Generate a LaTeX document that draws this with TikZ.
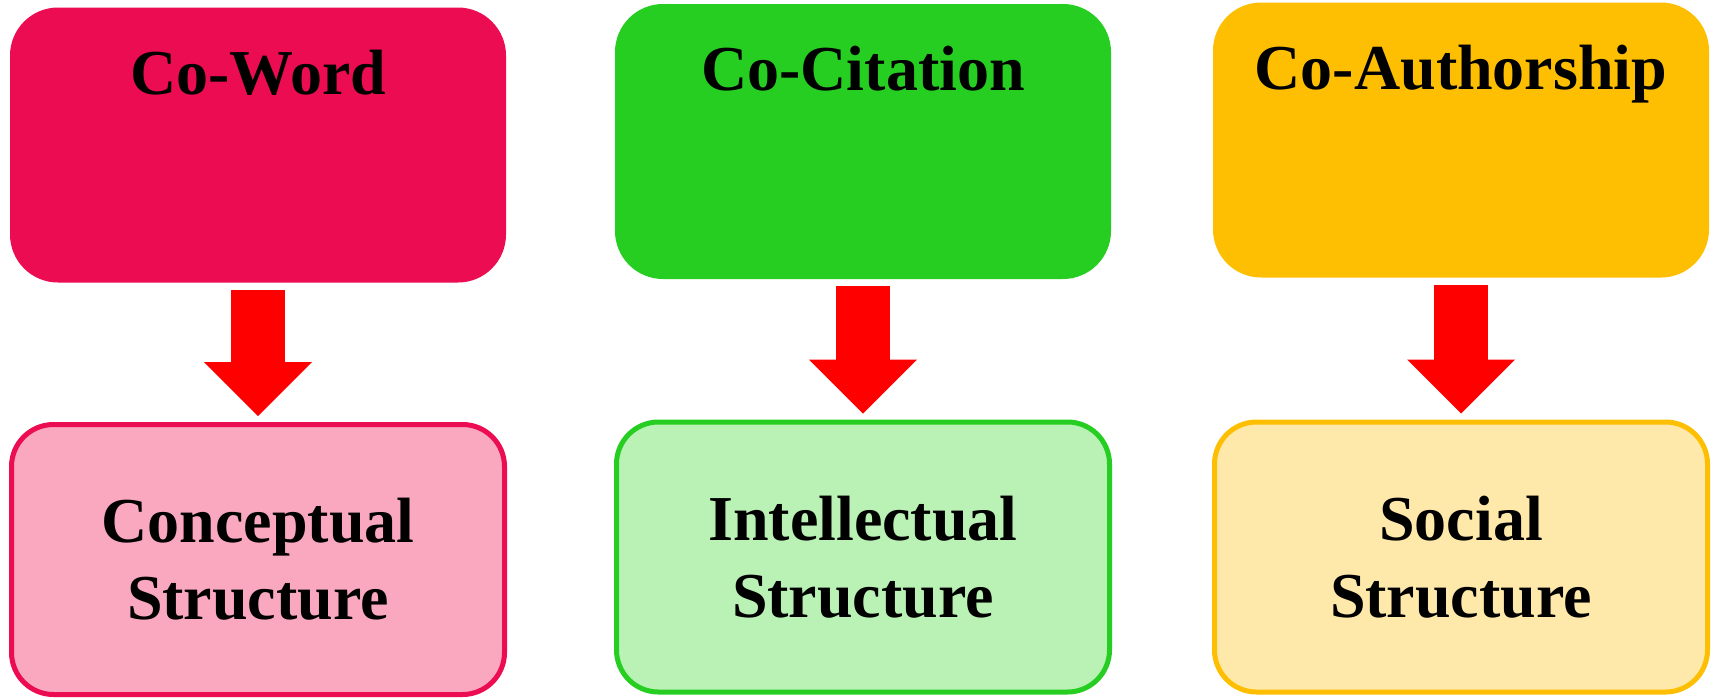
\documentclass[tikz,border=0pt]{standalone}
\usepackage{fontspec}
\setmainfont{Liberation Serif}
\usetikzlibrary{arrows.meta}
\definecolor{wordred}{RGB}{236,12,82}
\definecolor{wordpink}{RGB}{250,167,192}
\definecolor{citegreen}{RGB}{39,206,34}
\definecolor{citelight}{RGB}{186,242,182}
\definecolor{authgold}{RGB}{254,191,3}
\definecolor{authlight}{RGB}{254,233,170}
\tikzset{
  topbox/.style={rounded corners=24pt, minimum width=248pt, minimum height=137.5pt, inner sep=0pt},
  bottombox/.style={rounded corners=21pt, line width=2.5pt, minimum width=246.5pt, minimum height=135pt,
    inner sep=0pt, align=center, font=\fontsize{32}{38.5}\selectfont\bfseries},
  title/.style={anchor=base, font=\fontsize{32}{38.5}\selectfont\bfseries},
  flow/.style={draw=red, line width=27pt, -{Triangle[width=54pt,length=27pt,line width=0pt]},
    shorten <=3.5pt, shorten >=3pt}
}

\begin{document}
\begin{tikzpicture}[x=0.5pt, y=-0.5pt]
  \useasboundingbox (0,0) rectangle (1715,698);
  % sources
  \node[topbox, fill=wordred] (cw) at (258,145) {};
  \node[topbox, fill=citegreen] (cc) at (863,141.5) {};
  \node[topbox, fill=authgold] (ca) at (1461,140) {};
  \node[title] (cwt) at ([yshift=-43.5pt]cw.north) {Co-Word};
  \node[title] (cct) at ([yshift=-43.5pt]cc.north) {Co-Citation};
  \node[title] (cat) at ([yshift=-43.5pt]ca.north) {Co-Authorship};
  % structures
  \node[bottombox, draw=wordred, fill=wordpink] (cs) at (258,559.5) {Conceptual\\Structure};
  \node[bottombox, draw=citegreen, fill=citelight] (is) at (863,557) {Intellectual\\Structure};
  \node[bottombox, draw=authgold, fill=authlight] (ss) at (1461,557) {Social\\Structure};
  \draw[flow] (cw.south) -- (cs.north);
  \draw[flow] (cc.south) -- (is.north);
  \draw[flow] (ca.south) -- (ss.north);
\end{tikzpicture}
\end{document}
